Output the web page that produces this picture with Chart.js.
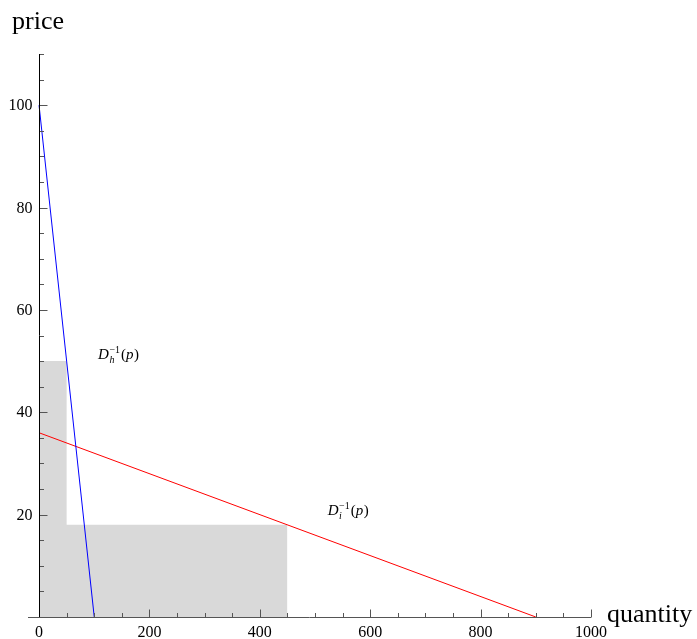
<!DOCTYPE html>
<html lang="en">

<head>
  <meta charset="UTF-8" />
  <title>Inverse demand curves</title>
  <style>
    body { margin: 0; background: #fff; }
    canvas { display: block; }
  </style>
</head>

<body>
  <canvas id="myChart" width="697" height="639"></canvas>

  <script src="https://cdn.jsdelivr.net/npm/chart.js@4.4.0/dist/chart.umd.min.js"></script>
  <script>
    // curve data (quantity, price)
    const hQuantity = [0, 100];
    const hPrice = [100, 0];
    const iQuantity = [0, 900];
    const iPrice = [36, 0];

    // shaded area outline
    const shadeQuantity = [0, 50, 50, 450, 450];
    const shadePrice = [50, 50, 18, 18, 0];

    // tick labels
    const xTicks = [0, 200, 400, 600, 800, 1000];
    const yTicks = [20, 40, 60, 80, 100];

    // curve labels
    const labelNames = ['h', 'i'];
    const labelQuantity = [107, 523];
    const labelPrice = [50.4, 19.9];

    const toPoints = (xs, ys) => xs.map((x, i) => ({ x: x, y: ys[i] }));

    // axes drawn Mathematica style: crossing at origin, ticks pointing inward
    const axesPlugin = {
      id: 'axes',
      afterDatasetsDraw(chart) {
        const c = chart.ctx;
        const xs = chart.scales.x;
        const ys = chart.scales.y;
        const x0 = Math.round(xs.getPixelForValue(0)) + 0.5;
        const y0 = Math.round(ys.getPixelForValue(0)) + 0.5;
        c.save();

        // x axis
        c.strokeStyle = '#555';
        c.lineWidth = 1;
        c.beginPath();
        c.moveTo(xs.left, y0);
        c.lineTo(xs.right, y0);
        for (let v = 50; v <= xs.max; v += 50) {
          const px = Math.round(xs.getPixelForValue(v)) + 0.5;
          const len = v % 200 === 0 ? 8 : 4.5;
          c.moveTo(px, y0);
          c.lineTo(px, y0 - len);
        }
        for (let v = 5; v <= ys.max; v += 5) {
          const py = Math.round(ys.getPixelForValue(v)) + 0.5;
          const len = v % 20 === 0 ? 8 : 4.5;
          c.moveTo(x0, py);
          c.lineTo(x0 + len, py);
        }
        c.stroke();

        // y axis
        c.strokeStyle = '#000';
        c.beginPath();
        c.moveTo(x0, ys.bottom);
        c.lineTo(x0, ys.top);
        c.stroke();

        // tick labels
        c.fillStyle = '#000';
        c.font = '16px "Liberation Serif", "DejaVu Serif", serif';
        c.textAlign = 'center';
        c.textBaseline = 'alphabetic';
        xTicks.forEach(v => c.fillText(String(v), xs.getPixelForValue(v), 637));
        c.textAlign = 'right';
        c.textBaseline = 'middle';
        yTicks.forEach(v => c.fillText(String(v), x0 - 7, ys.getPixelForValue(v) + 1));

        // axis titles
        c.font = '26px "Liberation Serif", serif';
        c.textAlign = 'left';
        c.textBaseline = 'alphabetic';
        c.fillText('price', 12, 29);
        c.fillText('quantity', 607, 622);

        // curve labels D_x^{-1}(p)
        labelNames.forEach((n, i) => {
          let px = xs.getPixelForValue(labelQuantity[i]);
          const py = ys.getPixelForValue(labelPrice[i]);
          c.font = 'italic 15px "Liberation Serif", serif';
          c.fillText('D', px, py);
          px += c.measureText('D').width + 0.5;
          c.font = 'italic 10px "Liberation Serif", serif';
          c.fillText(n, px, py + 4);
          const wSub = c.measureText(n).width;
          c.font = '10px "Liberation Serif", serif';
          c.fillText('\u22121', px, py - 6);
          px += Math.max(wSub, c.measureText('\u22121').width) + 1;
          c.font = '15px "Liberation Serif", serif';
          c.fillText('(', px, py);
          px += c.measureText('(').width;
          c.font = 'italic 15px "Liberation Serif", serif';
          c.fillText('p', px, py);
          px += c.measureText('p').width + 0.5;
          c.font = '15px "Liberation Serif", serif';
          c.fillText(')', px, py);
        });

        c.restore();
      }
    };

    const ctx = document.getElementById('myChart').getContext('2d');

    const myChart = new Chart(ctx, {
      type: 'scatter',
      data: {
        datasets: [{
          label: 'Dh',
          data: toPoints(hQuantity, hPrice),
          showLine: true,
          borderColor: '#0000ff',
          borderWidth: 1,
          pointRadius: 0,
          order: 1
        }, {
          label: 'Di',
          data: toPoints(iQuantity, iPrice),
          showLine: true,
          borderColor: '#ff0000',
          borderWidth: 1,
          pointRadius: 0,
          order: 2
        }, {
          label: 'shade',
          data: toPoints(shadeQuantity, shadePrice),
          showLine: true,
          borderWidth: 0,
          borderColor: 'rgba(0,0,0,0)',
          backgroundColor: '#d9d9d9',
          fill: 'origin',
          pointRadius: 0,
          order: 3
        }]
      },
      options: {
        responsive: false,
        animation: false,
        layout: {
          padding: { left: 28, right: 106, top: 54, bottom: 22 }
        },
        scales: {
          x: { type: 'linear', min: -20, max: 1000, display: false },
          y: { type: 'linear', min: 0, max: 110, display: false }
        },
        plugins: {
          legend: { display: false },
          tooltip: { enabled: false }
        }
      },
      plugins: [axesPlugin]
    });
  </script>
</body>

</html>
